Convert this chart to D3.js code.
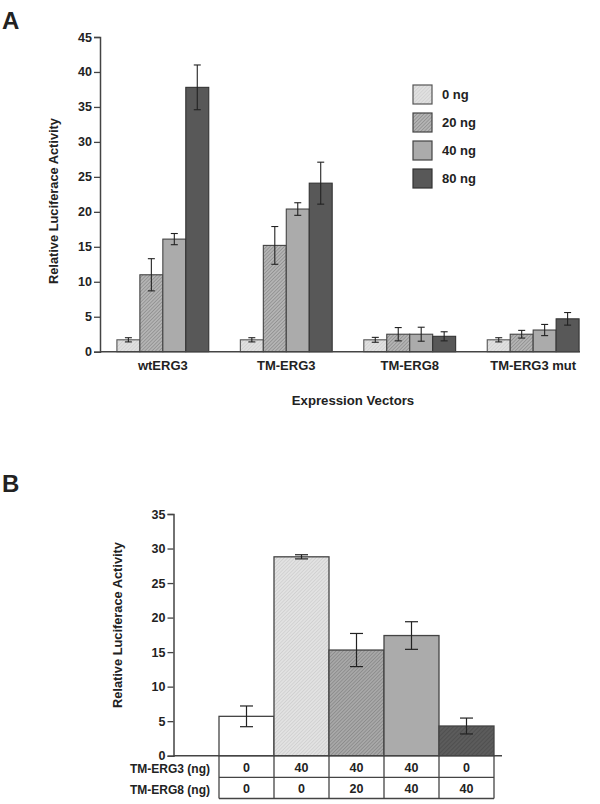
<!DOCTYPE html>
<html><head><meta charset="utf-8">
<script src="https://cdn.jsdelivr.net/npm/d3@7"></script>
<style>
body{margin:0;background:#fff;}
text{font-family:"Liberation Sans",Arial,sans-serif;font-weight:bold;fill:#222;}
</style></head>
<body><svg id="c" width="600" height="804"></svg>
<script>
// ---- Panel A data ----
const vectorsA = ["wtERG3","TM-ERG3","TM-ERG8","TM-ERG3 mut"];
const dosesA = ["0 ng","20 ng","40 ng","80 ng"];
const valuesA = [
  [1.7, 11.0, 16.1, 37.8],
  [1.7, 15.2, 20.4, 24.1],
  [1.7, 2.5, 2.5, 2.2],
  [1.7, 2.5, 3.1, 4.7]
];
const errorsA = [
  [0.3, 2.3, 0.8, 3.2],
  [0.3, 2.7, 0.9, 3.0],
  [0.35, 0.95, 1.0, 0.65],
  [0.3, 0.55, 0.8, 0.9]
];
const yTicksA = [0,5,10,15,20,25,30,35,40,45];

// ---- Panel B data ----
const conditionsB = ["c1","c2","c3","c4","c5"];
const valuesB = [5.7, 28.8, 15.3, 17.4, 4.3];
const errorsB = [1.5, 0.3, 2.4, 2.0, 1.15];
const ergs3B = ["0","40","40","40","0"];
const ergs8B = ["0","0","20","40","40"];
const rowLabelsB = ["TM-ERG3 (ng)","TM-ERG8 (ng)"];
const yTicksB = [0,5,10,15,20,25,30,35];

const FS = 12.5;
const svg = d3.select("#c");
const defs = svg.append("defs");
function hatch(id, bg, line, spacing, lw){
  const p = defs.append("pattern").attr("id",id).attr("patternUnits","userSpaceOnUse")
    .attr("width",spacing).attr("height",spacing).attr("patternTransform","rotate(45)");
  p.append("rect").attr("width",spacing).attr("height",spacing).attr("fill",bg);
  p.append("line").attr("x1",0).attr("y1",0).attr("x2",0).attr("y2",spacing).attr("stroke",line).attr("stroke-width",lw);
}
hatch("hA0","#e0e0e0","#c8c8c8",2.5,1);
hatch("hA1","#b4b4b4","#7a7a7a",2.5,1);
hatch("hB1","#e2e2e2","#c4c4c4",2.5,1);
hatch("hB2","#a8a8a8","#787878",2.5,1);
hatch("hB4","#5c5c5c","#444",3,1);

const fillsA = ["url(#hA0)","url(#hA1)","#ababab","#585858"];
const strokesA = ["#555","#444","#444","#333"];
const fillsB = ["#ffffff","url(#hB1)","url(#hB2)","#ababab","url(#hB4)"];

// ================= Panel A =================
svg.append("text").attr("x",2).attr("y",29).attr("font-size",24).text("A");
const yA = d3.scaleLinear().domain([0,45]).range([351.7,37]);
const xA = d3.scaleBand().domain(vectorsA).range([100,596]).paddingInner(0.256).paddingOuter(0.137);
const xsA = d3.scaleBand().domain(dosesA).range([0,xA.bandwidth()]);

const gA = svg.append("g");
const yAxA = gA.append("g").attr("transform","translate(100,0)")
  .call(d3.axisLeft(yA).tickValues(yTicksA).tickSize(6).tickPadding(2));
yAxA.selectAll("text").attr("font-size",FS);
yAxA.select(".domain").attr("stroke","#444").attr("stroke-width",1.5);
yAxA.selectAll(".tick line").attr("stroke","#444").attr("stroke-width",1.3);

vectorsA.forEach((v,i)=>{
  const g = gA.append("g").attr("transform",`translate(${xA(v)},0)`);
  dosesA.forEach((d,j)=>{
    const val = valuesA[i][j], e = errorsA[i][j];
    g.append("rect").attr("x",xsA(d)).attr("y",yA(val)).attr("width",xsA.bandwidth())
      .attr("height",yA(0)-yA(val)).attr("fill",fillsA[j]).attr("stroke",strokesA[j]).attr("stroke-width",1.1);
    const cx = xsA(d)+xsA.bandwidth()/2;
    g.append("line").attr("x1",cx).attr("x2",cx).attr("y1",yA(val+e)).attr("y2",yA(val-e)).attr("stroke","#222").attr("stroke-width",1.1);
    [val+e,val-e].forEach(t=>g.append("line").attr("x1",cx-3.5).attr("x2",cx+3.5).attr("y1",yA(t)).attr("y2",yA(t)).attr("stroke","#222").attr("stroke-width",1.1));
  });
  gA.append("text").attr("x",xA(v)+xA.bandwidth()/2).attr("y",370).attr("text-anchor","middle").attr("font-size",13).text(v);
});
gA.append("line").attr("x1",100).attr("x2",580).attr("y1",yA(0)).attr("y2",yA(0)).attr("stroke","#444").attr("stroke-width",1.5);
gA.append("text").attr("x",353).attr("y",405).attr("text-anchor","middle").attr("font-size",13.2).text("Expression Vectors");
gA.append("text").attr("transform","translate(58,201) rotate(-90)").attr("text-anchor","middle").attr("font-size",12.8).text("Relative Luciferace Activity");

// legend
dosesA.forEach((d,j)=>{
  const y = 85 + j*28;
  gA.append("rect").attr("x",413).attr("y",y).attr("width",19).attr("height",19)
    .attr("fill",fillsA[j]).attr("stroke",strokesA[j]).attr("stroke-width",1.2);
  gA.append("text").attr("x",442).attr("y",y+14).attr("font-size",13).text(d);
});

// ================= Panel B =================
svg.append("text").attr("x",2).attr("y",492).attr("font-size",24).text("B");
const yB = d3.scaleLinear().domain([0,35]).range([755.7,514]);
const xB = d3.scaleBand().domain(conditionsB).range([219,494]).padding(0);
const gB = svg.append("g");
const yAxB = gB.append("g").attr("transform","translate(173.5,0)")
  .call(d3.axisLeft(yB).tickValues(yTicksB).tickSize(6).tickPadding(2));
yAxB.selectAll("text").attr("font-size",FS);
yAxB.select(".domain").attr("stroke","#444").attr("stroke-width",1.5);
yAxB.selectAll(".tick line").attr("stroke","#444").attr("stroke-width",1.3);

conditionsB.forEach((c,i)=>{
  const val = valuesB[i], e = errorsB[i];
  gB.append("rect").attr("x",xB(c)).attr("y",yB(val)).attr("width",xB.bandwidth()).attr("height",yB(0)-yB(val))
    .attr("fill",fillsB[i]).attr("stroke","#444").attr("stroke-width",1.3);
  const cx = xB(c)+xB.bandwidth()/2;
  gB.append("line").attr("x1",cx).attr("x2",cx).attr("y1",yB(val+e)).attr("y2",yB(val-e)).attr("stroke","#222").attr("stroke-width",1.2);
  [val+e,val-e].forEach(t=>gB.append("line").attr("x1",cx-6.5).attr("x2",cx+6.5).attr("y1",yB(t)).attr("y2",yB(t)).attr("stroke","#222").attr("stroke-width",1.2));
});
gB.append("line").attr("x1",173.5).attr("x2",502).attr("y1",yB(0)).attr("y2",yB(0)).attr("stroke","#444").attr("stroke-width",1.5);
gB.append("text").attr("transform","translate(122,625) rotate(-90)").attr("text-anchor","middle").attr("font-size",12.8).text("Relative Luciferace Activity");

// table
const rowY = [755.7, 777.3, 798.5];
[ergs3B, ergs8B].forEach((row,r)=>{
  gB.append("text").attr("x",210).attr("y",(rowY[r]+rowY[r+1])/2+6.5).attr("text-anchor","end").attr("font-size",12).text(rowLabelsB[r]);
  conditionsB.forEach((c,i)=>{
    gB.append("text").attr("x",xB(c)+xB.bandwidth()/2).attr("y",(rowY[r]+rowY[r+1])/2+5)
      .attr("text-anchor","middle").attr("font-size",FS).text(row[i]);
  });
});
[rowY[1],rowY[2]].forEach(y=>gB.append("line").attr("x1",219).attr("x2",494).attr("y1",y).attr("y2",y).attr("stroke","#444").attr("stroke-width",1.3));
conditionsB.concat(["end"]).forEach((c,i)=>{
  const x = i<conditionsB.length ? xB(c) : xB.range()[1];
  gB.append("line").attr("x1",x).attr("x2",x).attr("y1",rowY[0]).attr("y2",rowY[2]).attr("stroke","#444").attr("stroke-width",1.3);
});
</script></body></html>
